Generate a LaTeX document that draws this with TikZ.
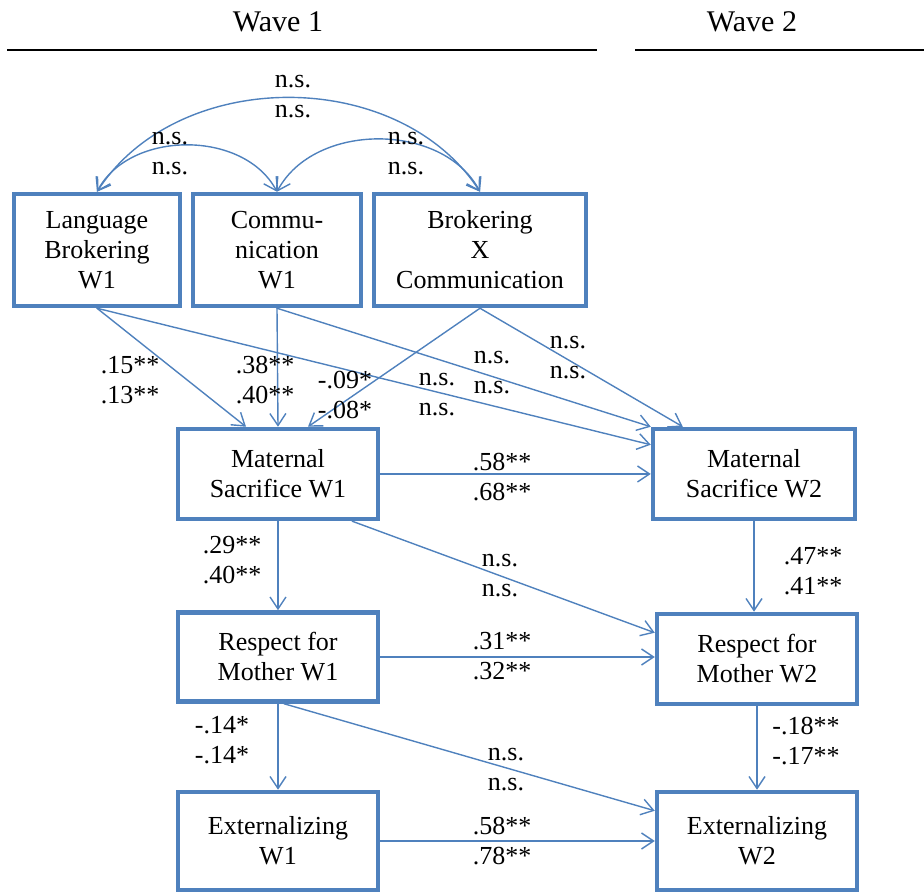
\documentclass[tikz,border=0pt]{standalone}
\usepackage{fontspec}
\setmainfont{Liberation Serif}
\usepackage{tikz}
\usetikzlibrary{arrows.meta}

\definecolor{pathblue}{RGB}{79,129,189}

\begin{document}
\begin{tikzpicture}[
				x=1pt, y=1pt,
				line cap=round,
				line join=round,
				box/.style={draw=pathblue, line width=4.5pt, line join=miter, align=center,
					font={\fontsize{26}{30}\selectfont}, inner sep=0pt},
				coef/.style={align=center, font={\fontsize{26}{30}\selectfont}, inner sep=0pt},
				path/.style={draw=pathblue, line width=1.4pt,
					-{Straight Barb[length=12pt,width=16pt,line width=1.4pt]}},
				both/.style={draw=pathblue, line width=1.4pt,
					{Straight Barb[length=12pt,width=16pt,line width=1.4pt]}-{Straight Barb[length=12pt,width=16pt,line width=1.4pt]}},
				wave/.style={font={\fontsize{30}{34}\selectfont}}
				]
				\useasboundingbox (0,0) rectangle (924,894);
				
				% Wave headers
				\node[wave] (w1) at (278,872) {Wave 1};
				\node[wave] (w2) at (752,872) {Wave 2};
				\draw[line width=2pt, line cap=butt] (7,844) -- (597,844);
				\draw[line width=2pt, line cap=butt] (635,844) -- (924,844);
				
				% Wave 1 predictors
				\node[box, minimum width=166pt, minimum height=112pt] (lb) at (97,644) {Language\\Brokering\\W1};
				\node[box, minimum width=168pt, minimum height=112pt] (comm) at (277,644) {Commu-\\nication\\W1};
				\node[box, minimum width=212pt, minimum height=112pt] (bxc) at (480,644) {Brokering\\X\\Communication};
				
				% Outcomes
				\node[box, minimum width=200pt, minimum height=90pt] (msw1) at (278,420) {Maternal\\Sacrifice W1};
				\node[box, minimum width=202pt, minimum height=90pt] (msw2) at (754,420) {Maternal\\Sacrifice W2};
				\node[box, minimum width=200pt, minimum height=89pt] (rmw1) at (278,237) {Respect for\\Mother W1};
				\node[box, minimum width=200pt, minimum height=90pt] (rmw2) at (757,235) {Respect for\\Mother W2};
				\node[box, minimum width=200pt, minimum height=98pt] (extw1) at (278,53) {Externalizing\\W1};
				\node[box, minimum width=200pt, minimum height=98pt] (extw2) at (757,53) {Externalizing\\W2};
				
				% Correlations
				\draw[both] (lb.north) to[bend left=57] (bxc.north);
				\draw[both] (lb.north) to[bend left=62] (comm.north);
				\draw[both] (comm.north) to[bend left=62] (bxc.north);
				\node[coef] (c1) at (293,797) {n.s.\\n.s.};
				\node[coef] (c2) at (170,740) {n.s.\\n.s.};
				\node[coef] (c3) at (406,740) {n.s.\\n.s.};
				
				% Paths to maternal sacrifice
				\draw[path] (lb.south) -- ([xshift=-32pt]msw1.north);
				\draw[path] (comm.south) -- (msw1.north);
				\draw[path] (bxc.south) -- ([xshift=30pt]msw1.north);
				\draw[path] (lb.south) -- ([yshift=-18pt]msw2.north west);
				\draw[path] (comm.south) -- (msw2.north west);
				\draw[path] (bxc.south) -- ([xshift=32pt]msw2.north west);
				\draw[path] (msw1.east) -- (msw2.west);
				
				% Paths to respect
				\draw[path] (msw1.south) -- (rmw1.north);
				\draw[path] ([xshift=-28pt]msw1.south east) -- ([yshift=-21pt]rmw2.north west);
				\draw[path] (msw2.south) -- (msw2.south |- rmw2.north);
				\draw[path] (rmw1.east) -- (rmw1.east -| rmw2.west);
				
				% Paths to externalizing
				\draw[path] (rmw1.south) -- (extw1.north);
				\draw[path] ([xshift=6pt]rmw1.south) -- ([yshift=-21pt]extw2.north west);
				\draw[path] (rmw2.south) -- (extw2.north);
				\draw[path] (extw1.east) -- (extw2.west);
				
				% Coefficients
				\node[coef] (b1) at (130,514) {.15**\\.13**};
				\node[coef] (b2) at (265,514) {.38**\\.40**};
				\node[coef] (b3) at (345,499) {-.09*\\-.08*};
				\node[coef] (b4) at (437,499) {n.s.\\n.s.};
				\node[coef] (b5) at (492,521) {n.s.\\n.s.};
				\node[coef] (b6) at (568,536) {n.s.\\n.s.};
				\node[coef] (b7) at (502,417) {.58**\\.68**};
				\node[coef] (b8) at (232,334) {.29**\\.40**};
				\node[coef] (b9) at (500,318) {n.s.\\n.s.};
				\node[coef] (b10) at (813,323) {.47**\\.41**};
				\node[coef] (b11) at (502,238) {.31**\\.32**};
				\node[coef] (b12) at (222,154) {-.14*\\-.14*};
				\node[coef] (b13) at (506,124) {n.s.\\n.s.};
				\node[coef] (b14) at (806,153) {-.18**\\-.17**};
				\node[coef] (b15) at (502,53) {.58**\\.78**};
			\end{tikzpicture}
\end{document}
